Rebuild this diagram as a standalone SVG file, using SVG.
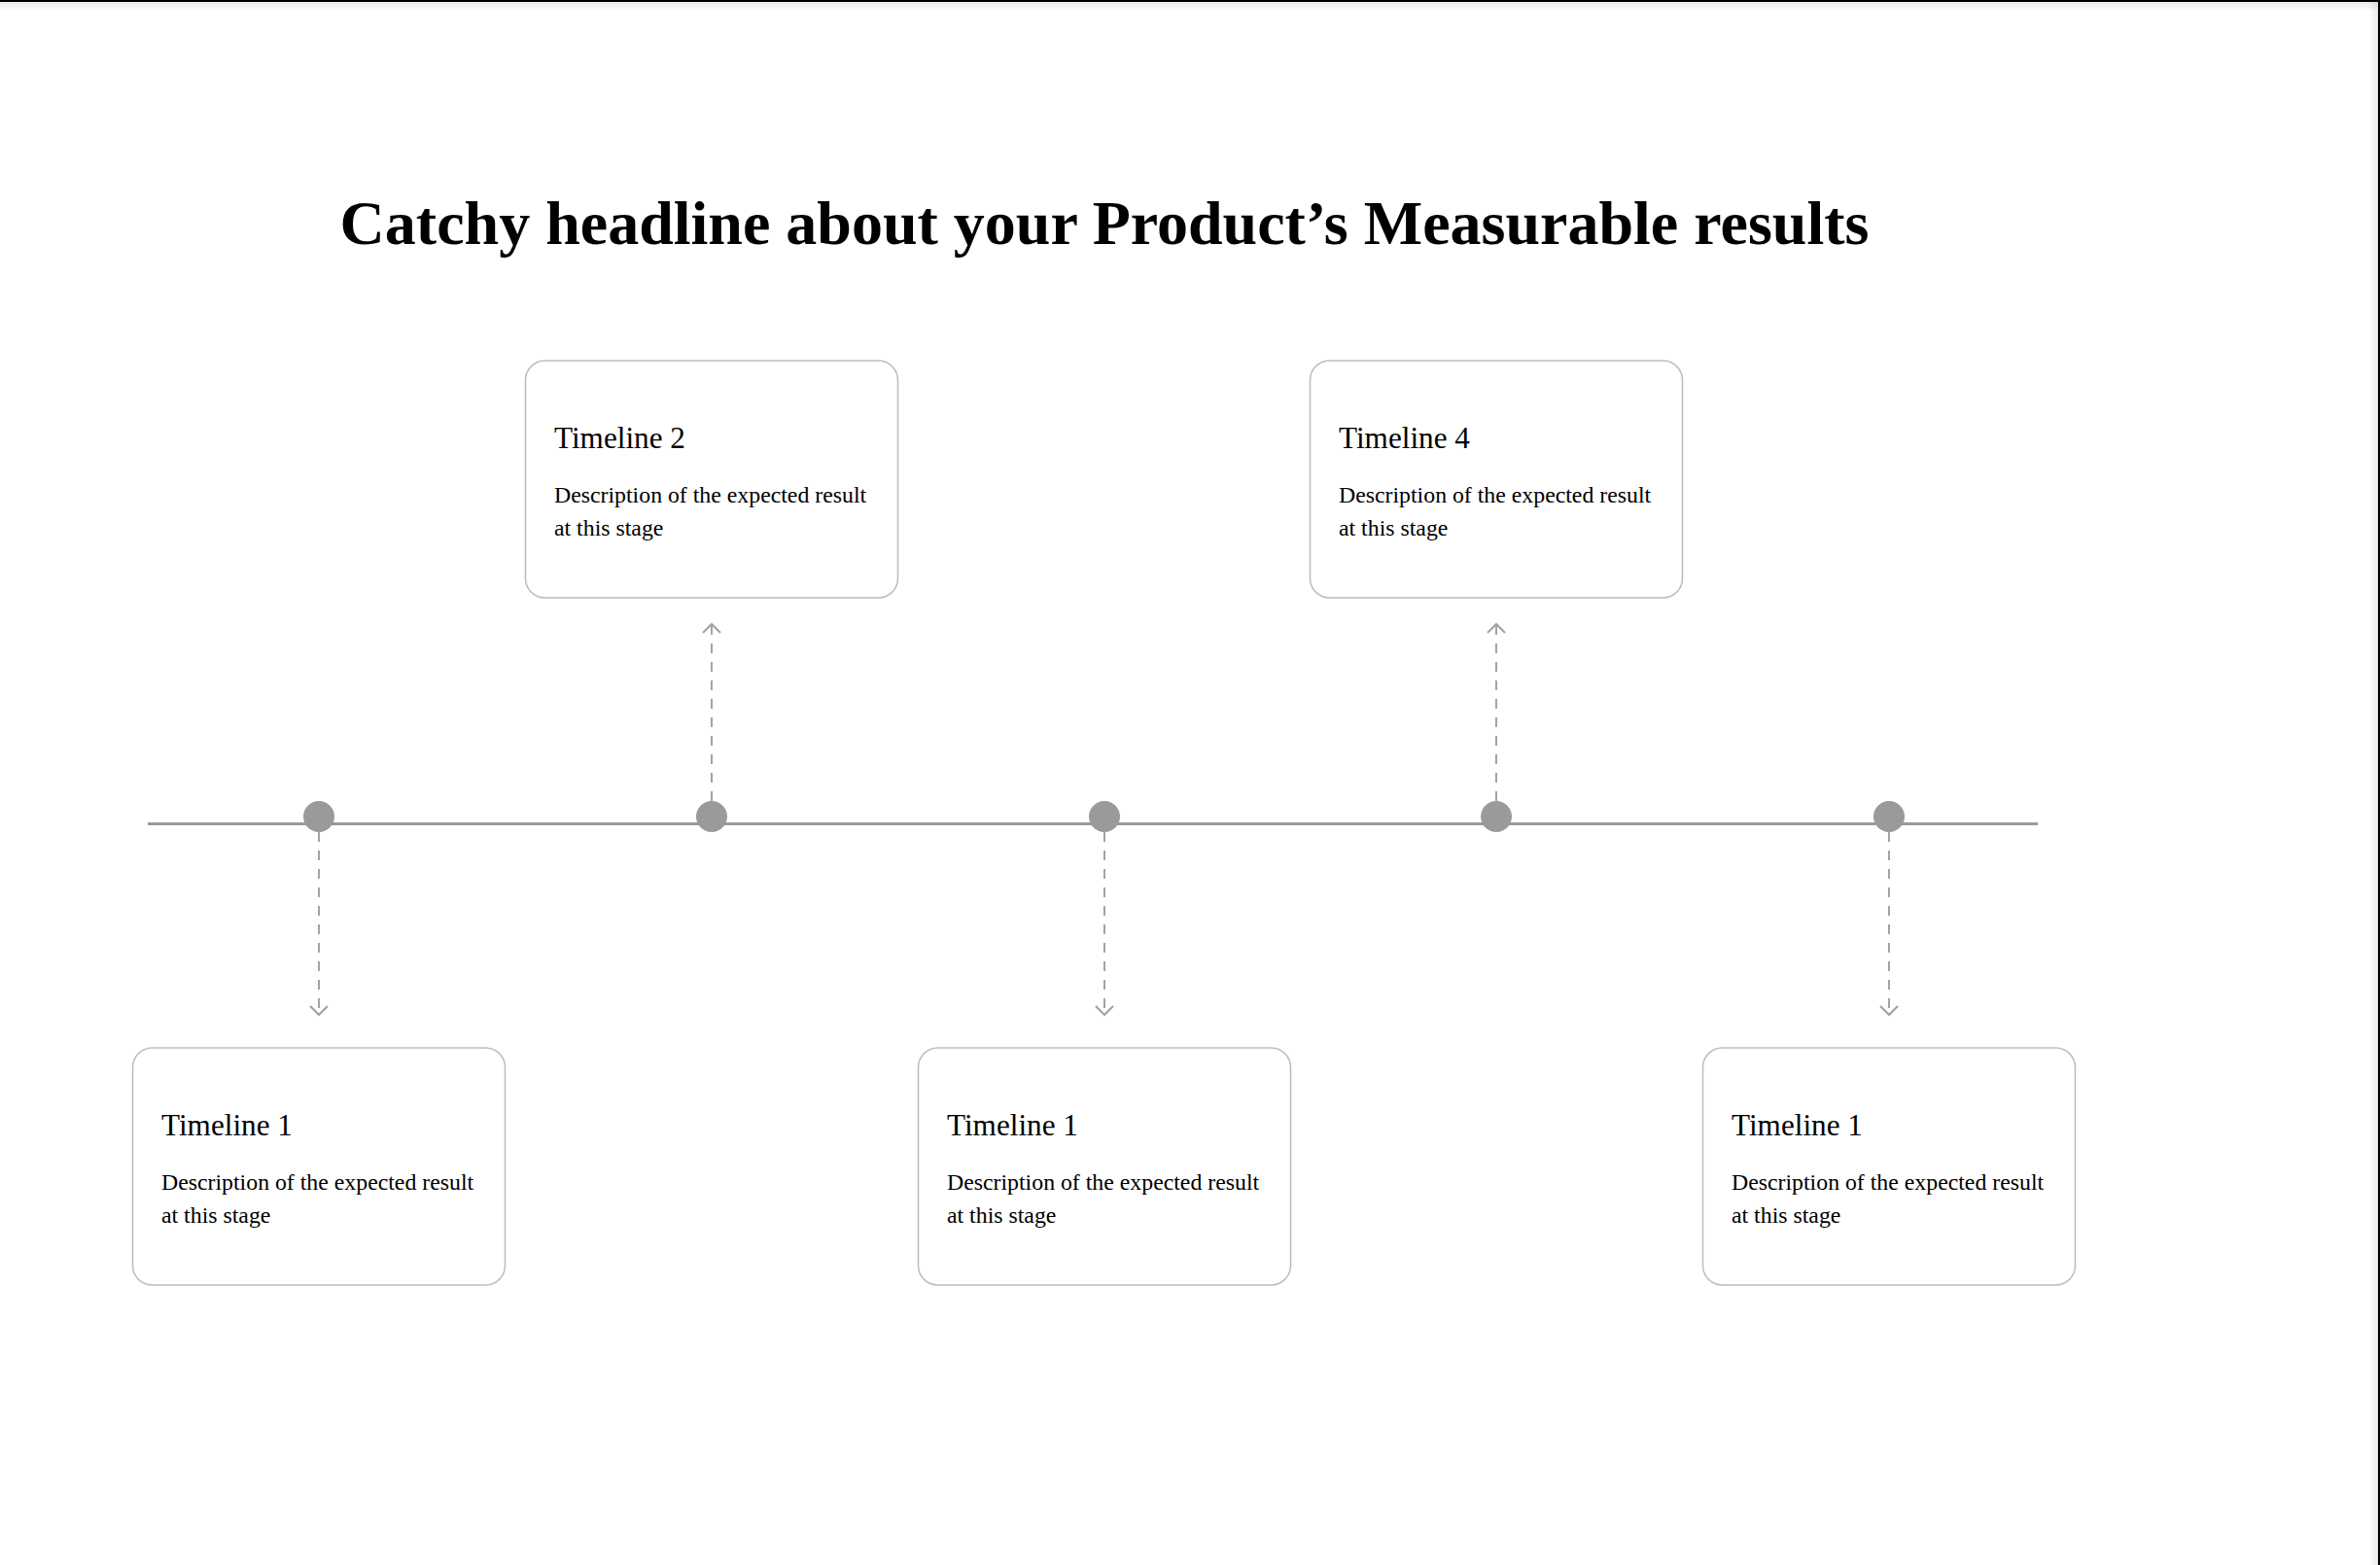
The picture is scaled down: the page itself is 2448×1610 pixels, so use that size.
<svg xmlns="http://www.w3.org/2000/svg" width="2448" height="1610" viewBox="0 0 2448 1610">
  <defs>
    <style>
      .box { fill: #ffffff; stroke: #bdbdbd; stroke-width: 1.5; }
      .ttl { font-family: "Liberation Serif", "Times New Roman", serif; font-size: 31.2px; fill: #000; }
      .desc { font-family: "Liberation Serif", "Times New Roman", serif; font-size: 23.8px; fill: #000; }
      .head { font-family: "Liberation Serif", "Times New Roman", serif; font-size: 64px; font-weight: bold; fill: #000; }
      .dot { fill: #9a9a9a; }
      .conn { stroke: #a3a3a3; stroke-width: 2; stroke-dasharray: 10 9; fill: none; }
      .axis { stroke: #9a9a9a; stroke-width: 3; }
    </style>
    <marker id="chev" markerUnits="userSpaceOnUse" markerWidth="14" markerHeight="22" refX="10" refY="10" orient="auto" viewBox="0 0 14 22">
      <path d="M1 1 L10 10 L1 19" fill="none" stroke="#a3a3a3" stroke-width="2.2"/>
    </marker>
    <linearGradient id="shR" x1="0" y1="0" x2="1" y2="0">
      <stop offset="0" stop-color="#000" stop-opacity="0"/>
      <stop offset="1" stop-color="#000" stop-opacity="0.08"/>
    </linearGradient>
    <linearGradient id="shT" x1="0" y1="0" x2="0" y2="1">
      <stop offset="0" stop-color="#000" stop-opacity="0.08"/>
      <stop offset="1" stop-color="#000" stop-opacity="0"/>
    </linearGradient>
  </defs>
  <rect x="0" y="0" width="2448" height="1610" fill="#ffffff"/>
  <rect x="0" y="2" width="2446" height="10" fill="url(#shT)"/>
  <rect x="2436" y="0" width="10" height="1610" fill="url(#shR)"/>
  <rect x="0" y="0" width="2448" height="2" fill="#000"/>
  <rect x="2446" y="0" width="2" height="1610" fill="#000"/>

  <text id="headline" class="head" x="1136" y="251" text-anchor="middle">Catchy headline about your Product’s Measurable results</text>

  <g id="connectors">
    <line class="axis" x1="152" y1="847.5" x2="2096" y2="847.5"/>
    <line class="conn" x1="328" y1="856" x2="328" y2="1044" marker-end="url(#chev)"/>
    <line class="conn" x1="732" y1="824" x2="732" y2="642" marker-end="url(#chev)"/>
    <line class="conn" x1="1136" y1="856" x2="1136" y2="1044" marker-end="url(#chev)"/>
    <line class="conn" x1="1539" y1="824" x2="1539" y2="642" marker-end="url(#chev)"/>
    <line class="conn" x1="1943" y1="856" x2="1943" y2="1044" marker-end="url(#chev)"/>
  </g>

  <g id="dots">
    <circle class="dot" cx="328" cy="840" r="16"/>
    <circle class="dot" cx="732" cy="840" r="16"/>
    <circle class="dot" cx="1136" cy="840" r="16"/>
    <circle class="dot" cx="1539" cy="840" r="16"/>
    <circle class="dot" cx="1943" cy="840" r="16"/>
  </g>

  <g id="node-t1a">
    <rect class="box" x="136.5" y="1078" width="383" height="244" rx="20"/>
    <text class="ttl" x="166" y="1168">Timeline 1</text>
    <text class="desc" x="166" y="1224">Description of the expected result</text>
    <text class="desc" x="166" y="1258">at this stage</text>
  </g>
  <g id="node-t2">
    <rect class="box" x="540.5" y="371" width="383" height="244" rx="20"/>
    <text class="ttl" x="570" y="461">Timeline 2</text>
    <text class="desc" x="570" y="517">Description of the expected result</text>
    <text class="desc" x="570" y="551">at this stage</text>
  </g>
  <g id="node-t1b">
    <rect class="box" x="944.5" y="1078" width="383" height="244" rx="20"/>
    <text class="ttl" x="974" y="1168">Timeline 1</text>
    <text class="desc" x="974" y="1224">Description of the expected result</text>
    <text class="desc" x="974" y="1258">at this stage</text>
  </g>
  <g id="node-t4">
    <rect class="box" x="1347.5" y="371" width="383" height="244" rx="20"/>
    <text class="ttl" x="1377" y="461">Timeline 4</text>
    <text class="desc" x="1377" y="517">Description of the expected result</text>
    <text class="desc" x="1377" y="551">at this stage</text>
  </g>
  <g id="node-t1c">
    <rect class="box" x="1751.5" y="1078" width="383" height="244" rx="20"/>
    <text class="ttl" x="1781" y="1168">Timeline 1</text>
    <text class="desc" x="1781" y="1224">Description of the expected result</text>
    <text class="desc" x="1781" y="1258">at this stage</text>
  </g>
</svg>
